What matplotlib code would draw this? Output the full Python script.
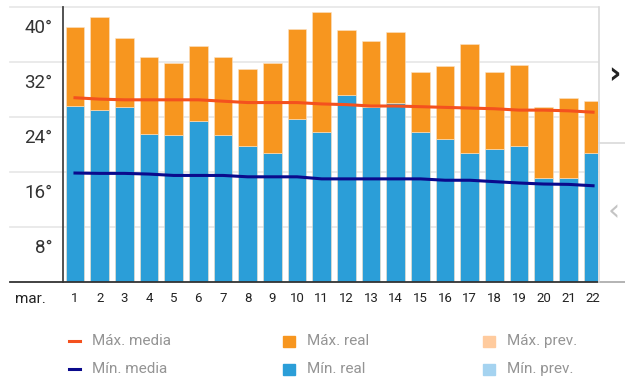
import matplotlib
matplotlib.use("Agg")
import matplotlib.pyplot as plt
from matplotlib.lines import Line2D
from matplotlib.patches import Rectangle
from matplotlib.transforms import offset_copy, blended_transform_factory

# daily temperatures, March
days = list(range(1, 23))
max_real = [37.1, 38.6, 35.5, 32.7, 31.8, 34.4, 32.7, 31.0, 31.8, 36.8, 39.2,
            36.6, 35.0, 36.4, 30.6, 31.4, 34.6, 30.6, 31.6, 25.4, 26.8, 26.4]
min_real = [25.6, 25.0, 25.4, 21.6, 21.4, 23.4, 21.4, 19.8, 18.8, 23.7, 21.8,
            27.2, 25.5, 26.0, 21.8, 20.8, 18.8, 19.4, 19.8, 15.2, 15.2, 18.8]
max_media = [26.8, 26.6, 26.5, 26.5, 26.5, 26.5, 26.3, 26.1, 26.1, 26.1, 25.9,
             25.8, 25.6, 25.6, 25.5, 25.4, 25.3, 25.2, 25.0, 25.0, 24.9, 24.7]
min_media = [15.85, 15.8, 15.8, 15.7, 15.5, 15.5, 15.5, 15.3, 15.3, 15.3, 15.0,
             15.0, 15.0, 15.0, 15.0, 14.8, 14.8, 14.6, 14.4, 14.25, 14.2, 14.0]
yticks = [8, 16, 24, 32, 40]
month = "mar."

c_max = "#f7961f"
c_min = "#2b9ed8"
c_max_media = "#f4511e"
c_min_media = "#0a0a8c"
c_max_prev = "#ffcb9e"
c_min_prev = "#a5d3f0"
grid_c = "#e6e6e6"

plt.rcParams['font.family'] = ['Roboto', 'DejaVu Sans']

fig = plt.figure(figsize=(6.25, 3.81), dpi=100)
ax = fig.add_axes([63.3 / 625, 1 - 282 / 381, (598 - 63.3) / 625, 275 / 381])
ax.set_xlim(0.526, 22.2)
ax.set_ylim(0, 40)

# gridlines run out to the left under the labels
for v in yticks:
    ax.axhline(v, xmin=-0.1, xmax=1, color=grid_c, lw=1.2, clip_on=False, zorder=0)
ax.axhline(0, xmin=-0.1, xmax=1.05, color="#333333", lw=1.3, clip_on=False, zorder=5)

w = 0.755
ax.bar(days, min_real, width=w, color=c_min, edgecolor="#fbe3c6", linewidth=0.4, zorder=2)
ax.bar(days, [a - b for a, b in zip(max_real, min_real)], bottom=min_real,
       width=w, color=c_max, edgecolor="#fbe3c6", linewidth=0.4, zorder=2)
ax.plot(days, max_media, color=c_max_media, lw=2.2, zorder=3)
ax.plot(days, min_media, color=c_min_media, lw=2.2, zorder=3)

for s in ["top", "right", "bottom"]:
    ax.spines[s].set_visible(False)
ax.spines["left"].set_color("#444444")
ax.spines["left"].set_linewidth(1.3)
ax.set_yticks([])
ax.set_xticks([])

# y labels sit a little below their gridlines
tr = blended_transform_factory(ax.transAxes, ax.transData)
tr = offset_copy(tr, fig=fig, x=0, y=-21, units='dots')
for v in yticks:
    ax.text(-0.021, v, f"{v}°", transform=tr, ha="right", va="center",
            fontsize=13.5, color="#333333")

# day labels
trx = offset_copy(ax.get_xaxis_transform(), fig=fig, x=0, y=-17, units='dots')
for d in days:
    ax.text(d, 0, str(d), transform=trx, ha="center", va="center",
            fontsize=9.5, color="#222222")
fig.text(30 / 625, 1 - 299 / 381, month, ha="center", va="center",
         fontsize=11, color="#222222")

# navigation panel on the right
fig.add_artist(Line2D([599 / 625, 599 / 625], [1 - 7 / 381, 1 - 282 / 381],
                      color="#d9d9d9", lw=1.2))
fig.add_artist(Line2D([599 / 625, 1], [1 - 143 / 381, 1 - 143 / 381],
                      color="#d9d9d9", lw=1.2))
fig.add_artist(Line2D([599 / 625, 1], [1 - 282 / 381, 1 - 282 / 381],
                      color="#cccccc", lw=1.2))
fig.text(614 / 625, 1 - 75 / 381, "›", ha="center", va="center",
         fontsize=22, color="#222222", family="DejaVu Sans", weight="bold")
fig.text(614 / 625, 1 - 212 / 381, "‹", ha="center", va="center",
         fontsize=22, color="#c4c4c4", family="DejaVu Sans")

# legend
legend_rows = [
    [("line", c_max_media, "Máx. media"), ("box", c_max, "Máx. real"), ("box", c_max_prev, "Máx. prev.")],
    [("line", c_min_media, "Mín. media"), ("box", c_min, "Mín. real"), ("box", c_min_prev, "Mín. prev.")],
]
col_x = [69, 283, 483]
row_y = [341, 369]
for r, row in enumerate(legend_rows):
    y = 1 - row_y[r] / 381
    for c, (kind, color, label) in enumerate(row):
        x0 = col_x[c]
        if kind == "line":
            fig.add_artist(Line2D([x0 / 625, (x0 + 11) / 625], [y, y], color=color, lw=2.2))
            tx = x0 + 23
        else:
            fig.add_artist(Rectangle((x0 / 625, y - 5.5 / 381), 12 / 625, 11 / 381,
                                     color=color, transform=fig.transFigure))
            tx = x0 + 24
        fig.text(tx / 625, y, label, ha="left", va="center", fontsize=11,
                 color="#949494")

fig.savefig("out.png", dpi=100)
